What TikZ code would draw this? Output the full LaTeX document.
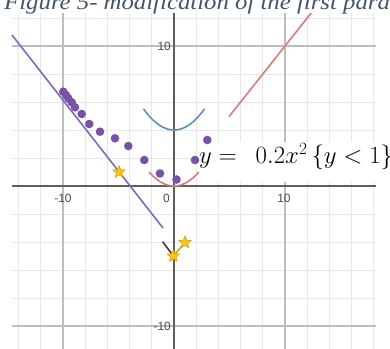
\documentclass[tikz,border=0pt]{standalone}
\usepackage{fontspec}
\setmainfont{Liberation Serif}
\newfontfamily\labfont{Liberation Sans}
\usetikzlibrary{shapes.geometric}
\definecolor{gminor}{HTML}{E6E6E6}
\definecolor{gmajor}{HTML}{BDBDBD}
\definecolor{axisc}{HTML}{5E5E5E}
\definecolor{purp}{HTML}{7852A9}
\definecolor{purpline}{HTML}{8467B8}
\definecolor{redl}{HTML}{D97B7B}
\definecolor{bluel}{HTML}{5E8FBE}
\definecolor{starf}{HTML}{F6C515}
\definecolor{stard}{HTML}{C9A000}
\definecolor{titlec}{HTML}{44546A}
\definecolor{vdark}{HTML}{3C3C3C}
\definecolor{vyel}{HTML}{C8A530}
\tikzset{
  minorg/.style={gminor,line width=0.9bp},
  majorg/.style={gmajor,line width=1.1bp},
  axisl/.style={axisc,line width=1.7bp},
  curve/.style={line width=1.6bp},
  dot/.style={purp},
  ticklab/.style={font=\labfont\fontsize{12}{12}\selectfont,text=black!70,inner sep=0pt},
  starn/.style={star,star points=5,star point ratio=2.3,fill=starf,draw=stard,line width=0.5bp,minimum size=13bp,inner sep=0pt}
}
\begin{document}
\begin{tikzpicture}[x=1bp,y=-1bp]
\useasboundingbox (0,0) rectangle (390,349);
\clip (0,0) rectangle (390,349);
\fill[white] (0,0) rectangle (390,349);
% title
\node[anchor=base west,inner sep=0pt,text=titlec,font=\fontsize{22}{22}\selectfont\itshape,xscale=1.13] (title) at (4,9) {Figure 5- modification of the first parabola};
% grid in math units
\begin{scope}[shift={(174,186)},x=11.1bp,y=14bp]
  \foreach \gx in {-14,-12,...,18} {\draw[minorg] (\gx,12.36) -- (\gx,-11.7);}
  \foreach \gy in {-10,-8,...,12} {\draw[minorg] (-14.6,\gy) -- (18.2,\gy);}
  \foreach \gx in {-10,10} {\draw[majorg] (\gx,12.36) -- (\gx,-11.7);}
  \foreach \gy in {-10,10} {\draw[majorg] (-14.6,\gy) -- (18.2,\gy);}
\end{scope}
% equation box (covers grid)
\fill[white] (197,142) rectangle (392,182);
\begin{scope}[shift={(174,186)},x=11.1bp,y=14bp]
  \draw[axisl] (-14.6,0) -- (18.2,0);
  \draw[axisl] (0,12.36) -- (0,-11.7);
  % curves
  \draw[curve,bluel,domain=-2.75:2.75,samples=40] plot (\x,{4+0.2*\x*\x});
  \draw[curve,redl,domain=-2.236:2.236,samples=40] plot (\x,{0.2*\x*\x});
  \draw[curve,redl] (4.95,4.95) -- (12.36,12.36);
\end{scope}
% tick labels
\node[ticklab,anchor=east] (l10y) at (171,46) {10};
\node[ticklab,anchor=east] (lm10y) at (171,326) {-10};
\node[ticklab] (lm10x) at (63,198) {-10};
\node[ticklab] (l0) at (166.5,198) {0};
\node[ticklab] (l10x) at (284,198) {10};
% purple line
\coordinate (pa) at (12,35);
\coordinate (pb) at (163,228);
\draw[curve,purpline] (pa) -- (pb);
% purple dots
\foreach \px/\py in {63.3/91.7,66/95,68.3/98.3,71.7/102.3,75/107.3,81.7/114,89.3/124,100/131.7,115/138.3,128.3/146,144.3/160,160/173.5,176.5/179.5,195/160,207.3/140}
  {\fill[dot] (\px,\py) circle[radius=4.3bp];}
% V near bottom
\coordinate (va) at (162.7,241.7);
\coordinate (vb) at (173.3,256);
\coordinate (vc) at (185,242.5);
\draw[curve,vdark] (va) -- (vb);
\draw[curve,vyel] (vb) -- (vc);
\node[starn] (s2) at (vb) {};
\node[starn] (s3) at (vc) {};
\node[starn] (s1) at (119,172) {};
% equation
\node[anchor=base west,inner sep=0pt,font=\fontsize{24.5}{24.5}\selectfont] (eq) at (199,163) {$y =\ \ 0.2x^2\,\{y < 1\}$};
\end{tikzpicture}
\end{document}
